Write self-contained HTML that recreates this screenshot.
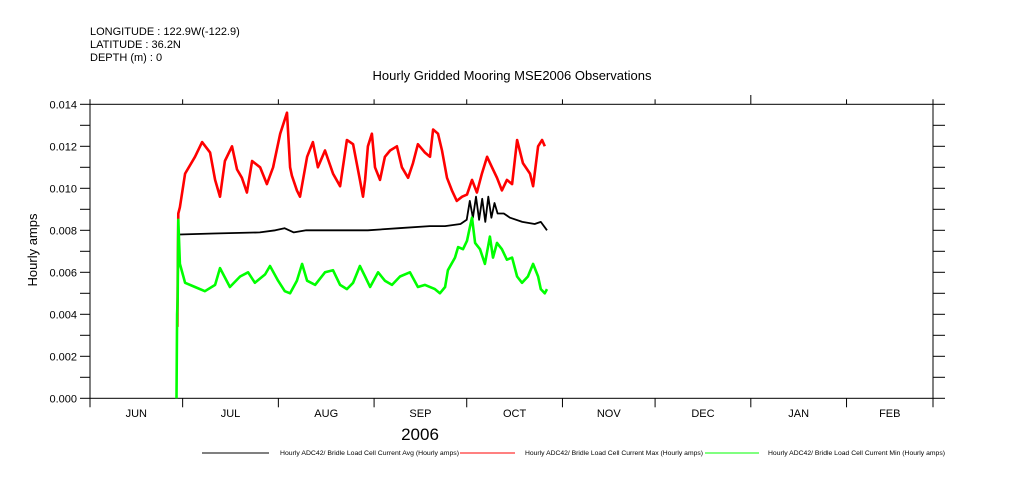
<!DOCTYPE html>
<html><head><meta charset="utf-8"><style>
body{margin:0;background:#fff;}
svg{display:block;font-family:"Liberation Sans",sans-serif;}
</style></head><body>
<svg id="chart" width="1009" height="504">
<g font-size="11" fill="#000">
<text x="90" y="35">LONGITUDE : 122.9W(-122.9)</text>
<text x="90" y="48">LATITUDE : 36.2N</text>
<text x="90" y="61">DEPTH (m) : 0</text>
</g>
<text x="512" y="80" text-anchor="middle" font-size="13">Hourly Gridded Mooring MSE2006 Observations</text>
<text transform="translate(37,250) rotate(-90)" text-anchor="middle" font-size="13">Hourly amps</text>
<text x="420" y="440" text-anchor="middle" font-size="17">2006</text>
<g id="axes"></g>
<g id="series"></g>
<g font-size="6" fill="#000">
<line x1="202" y1="453" x2="269" y2="453" stroke="#000"/>
<text x="280" y="455" textLength="179" lengthAdjust="spacingAndGlyphs">Hourly ADC42/ Bridle Load Cell Current Avg (Hourly amps)</text>
<line x1="460" y1="453" x2="515" y2="453" stroke="#f00"/>
<text x="525" y="455" textLength="178" lengthAdjust="spacingAndGlyphs">Hourly ADC42/ Bridle Load Cell Current Max (Hourly amps)</text>
<line x1="705" y1="453" x2="759" y2="453" stroke="#0f0"/>
<text x="768" y="455" textLength="177" lengthAdjust="spacingAndGlyphs">Hourly ADC42/ Bridle Load Cell Current Min (Hourly amps)</text>
</g>
</svg>
<script>
const monthLabels=["JUN","JUL","AUG","SEP","OCT","NOV","DEC","JAN","FEB"];
const monthStarts=[0,30,61,92,122,153,183,214,245,273];
const yTicks=[0,0.002,0.004,0.006,0.008,0.010,0.012,0.014];
const maxDays=[28.3,28.4,28.6,29.1,30.8,34.0,36.3,38.9,40.5,42.1,43.7,46.0,47.6,49.2,50.8,52.5,55.1,57.3,59.3,61.6,63.8,64.8,65.4,67.0,68.0,70.3,72.2,73.8,76.1,78.7,81.0,83.2,85.2,87.4,88.4,89.1,90.0,91.3,92.3,93.9,95.5,97.2,99.4,101.0,103.0,104.6,106.2,108.5,110.1,111.1,112.7,114.0,115.6,117.2,118.8,120.5,122.1,123.7,125.3,126.9,128.6,130.2,131.8,133.4,135.0,136.7,138.3,140.2,142.5,143.5,145.1,146.4,147.3];
const maxVals=[0.0034,0.0057,0.0088,0.0091,0.0107,0.0115,0.0122,0.0117,0.0104,0.0096,0.0113,0.0120,0.0109,0.0105,0.0098,0.0113,0.0110,0.0102,0.0110,0.0126,0.0136,0.0110,0.0106,0.0099,0.0096,0.0115,0.0122,0.0110,0.0118,0.0107,0.0101,0.0123,0.0121,0.0104,0.0096,0.0104,0.0120,0.0126,0.0110,0.0104,0.0115,0.0118,0.0120,0.0110,0.0105,0.0112,0.0121,0.0117,0.0115,0.0128,0.0126,0.0118,0.0105,0.0099,0.0094,0.0096,0.0097,0.0104,0.0098,0.0107,0.0115,0.0110,0.0105,0.0099,0.0104,0.0102,0.0123,0.0112,0.0107,0.0101,0.0120,0.0123,0.0120];
const avgDays=[28.6,29,40,55,60,63,66,70,80,90,100,110,115,120,122,123,124,125,126,127,128,129,130,131,132,134,136,140,144,146,148];
const avgVals=[0.0077,0.0078,0.00785,0.0079,0.0080,0.0081,0.0079,0.0080,0.0080,0.0080,0.0081,0.0082,0.0082,0.0083,0.0085,0.0094,0.0086,0.0096,0.0085,0.0095,0.0084,0.0096,0.0086,0.0093,0.0088,0.0088,0.0086,0.0084,0.0083,0.0084,0.0080];
const minDays=[28.0,28.2,28.4,28.6,29.1,30.8,34.0,37.2,40.5,42.1,45.3,48.6,51.2,53.4,56.7,58.3,60.9,63.1,64.8,67.0,68.7,70.3,72.9,76.1,78.7,81.0,83.2,85.2,87.4,89.1,90.7,93.3,95.5,97.8,100.4,103.6,106.2,108.5,111.7,113.3,115.0,115.9,118.2,119.2,120.8,122.1,123.1,123.7,124.7,126.3,127.9,129.5,130.5,131.8,133.4,135.0,136.7,138.3,139.9,141.8,143.5,145.1,146.0,147.3,148.0];
const minVals=[0,0.0040,0.0048,0.0085,0.0064,0.0055,0.0053,0.0051,0.0054,0.0062,0.0053,0.0058,0.0060,0.0055,0.0059,0.0063,0.0056,0.0051,0.0050,0.0056,0.0064,0.0056,0.0054,0.0060,0.0061,0.0054,0.0052,0.0055,0.0063,0.0058,0.0053,0.0060,0.0056,0.0054,0.0058,0.0060,0.0053,0.0054,0.0052,0.0050,0.0053,0.0061,0.0067,0.0072,0.0071,0.0075,0.0082,0.0086,0.0074,0.0071,0.0064,0.0077,0.0067,0.0074,0.0071,0.0066,0.0067,0.0058,0.0055,0.0058,0.0064,0.0058,0.0052,0.0050,0.0052];

const X0=90,X1=933,Y0=398.3,Y1=104.3;
const xScale=d=>X0+d/273*(X1-X0);
const yScale=v=>Y0-v/0.014*(Y0-Y1);
const NS="http://www.w3.org/2000/svg";
function mk(tag,attrs,parent){const e=document.createElementNS(NS,tag);for(const k in attrs)e.setAttribute(k,attrs[k]);parent.appendChild(e);return e;}
const axes=document.getElementById('axes');
const frame=mk('rect',{x:X0,y:Y1,width:X1-X0,height:Y0-Y1,fill:'none',stroke:'#000','stroke-width':1},axes);


for(let i=0;i<=14;i++){
  const y=yScale(i*0.001);
  const t=mk('line',{x1:X0-10,x2:X0,y1:y,y2:y,stroke:'#000'},axes);
  
  
  const r=mk('line',{x1:X1,x2:X1+12,y1:y,y2:y,stroke:'#000'},axes);
  
  
}
yTicks.forEach(v=>{
  const t=mk('text',{x:X0-13,y:yScale(v)+4,'text-anchor':'end','font-size':11},axes);
  t.textContent=v.toFixed(3);
  
  
});
monthStarts.forEach((d,i)=>{
  const x=xScale(d);
  const b=mk('line',{x1:x,x2:x,y1:Y0,y2:Y0+9,stroke:'#000'},axes);
  
  
  const top=mk('line',{x1:x,x2:x,y1:d===214?95:Y1-5,y2:Y1,stroke:'#000'},axes);
  
  
  if(i<monthLabels.length){
    const t=mk('text',{x:xScale((d+monthStarts[i+1])/2),y:417,'text-anchor':'middle','font-size':11},axes);
    t.textContent=monthLabels[i];
    
    
  }
});
const series=document.getElementById('series');
function draw(days,vals,color,w,name){
  const pts=days.map((d,i)=>xScale(d).toFixed(1)+','+yScale(vals[i]).toFixed(1)).join(' ');
  const p=mk('polyline',{points:pts,fill:'none',stroke:color,'stroke-width':w,'stroke-linejoin':'round'},series);
  
  
}
draw(maxDays,maxVals,'#f00',2.6,'series-max');
draw(avgDays,avgVals,'#000',1.8,'series-avg');
draw(minDays,minVals,'#0f0',2.6,'series-min');
</script>
</body></html>
